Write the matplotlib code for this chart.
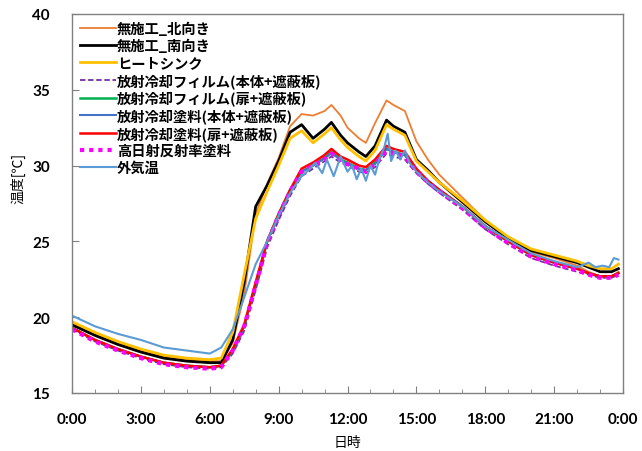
import numpy as np
import matplotlib
matplotlib.use('Agg')
from matplotlib import pyplot as plt
from matplotlib.ticker import MultipleLocator, FuncFormatter

plt.rcParams['font.family'] = ['Noto Sans CJK JP', 'DejaVu Sans']

# 時刻 [h]
t = [0, 1, 2, 3, 4, 5, 6, 6.5, 7, 7.5, 8, 8.5, 9, 9.5, 10, 10.5, 11, 11.3, 11.7, 12,
     12.5, 12.8, 13.2, 13.7, 14, 14.5, 15, 15.5, 16, 17, 18, 19, 20, 21, 22, 22.5, 23, 23.5, 23.8]

north = [19.6, 18.9, 18.3, 17.8, 17.4, 17.2, 17.1, 17.1, 18.3, 21.5, 26.8, 28.8, 30.5, 32.6, 33.4, 33.3, 33.6, 34.0, 33.3, 32.5,
         31.8, 31.5, 32.8, 34.3, 34.0, 33.6, 31.6, 30.4, 29.4, 27.9, 26.4, 25.2, 24.3, 23.9, 23.4, 23.0, 22.7, 22.7, 23.0]
south = [19.5, 18.8, 18.2, 17.7, 17.3, 17.1, 17.0, 17.0, 18.5, 22.3, 27.3, 28.7, 30.3, 32.2, 32.7, 31.8, 32.4, 32.85, 32.0, 31.5,
         30.9, 30.6, 31.3, 33.0, 32.6, 32.2, 30.4, 29.7, 28.9, 27.6, 26.3, 25.2, 24.4, 24.0, 23.6, 23.3, 23.0, 23.0, 23.2]
heatsink = [19.7, 19.0, 18.4, 17.9, 17.5, 17.3, 17.2, 17.3, 19.0, 22.8, 26.5, 28.3, 30.0, 31.8, 32.3, 31.5, 32.1, 32.5, 31.7, 31.2,
            30.6, 30.3, 31.0, 32.7, 32.4, 32.0, 30.3, 29.6, 28.9, 27.7, 26.4, 25.3, 24.5, 24.1, 23.7, 23.4, 23.2, 23.2, 23.5]
film_body = [19.2, 18.4, 17.8, 17.3, 16.9, 16.7, 16.6, 16.7, 17.6, 19.1, 21.8, 24.6, 26.4, 28.0, 29.3, 29.8, 30.3, 30.6, 30.2, 30.0,
             29.6, 29.5, 29.9, 30.8, 30.6, 30.4, 29.5, 28.8, 28.2, 27.1, 25.8, 24.8, 23.9, 23.4, 23.0, 22.8, 22.6, 22.6, 22.8]
film_door = [19.3, 18.5, 17.9, 17.4, 17.0, 16.8, 16.7, 16.8, 17.8, 19.4, 22.2, 25.0, 26.8, 28.4, 29.6, 30.0, 30.5, 30.9, 30.4, 30.2,
             29.8, 29.7, 30.2, 31.1, 30.9, 30.7, 29.7, 29.0, 28.4, 27.3, 26.0, 25.0, 24.1, 23.6, 23.2, 22.9, 22.7, 22.7, 22.9]
paint_body = [19.3, 18.5, 17.9, 17.4, 17.0, 16.8, 16.7, 16.8, 17.8, 19.4, 22.2, 25.0, 26.7, 28.3, 29.6, 30.0, 30.5, 30.8, 30.4, 30.1,
              29.8, 29.7, 30.1, 31.1, 30.9, 30.7, 29.7, 29.0, 28.4, 27.3, 26.0, 25.0, 24.1, 23.6, 23.2, 22.9, 22.7, 22.7, 22.9]
paint_door = [19.3, 18.5, 17.9, 17.4, 17.0, 16.8, 16.7, 16.8, 17.9, 19.5, 22.3, 25.0, 26.8, 28.4, 29.8, 30.2, 30.7, 31.1, 30.6, 30.4,
              30.0, 29.9, 30.4, 31.3, 31.1, 30.9, 29.8, 29.0, 28.4, 27.3, 26.0, 25.0, 24.1, 23.6, 23.2, 22.9, 22.7, 22.7, 22.9]
high_refl = [19.2, 18.4, 17.8, 17.3, 16.9, 16.7, 16.6, 16.7, 17.8, 19.4, 22.1, 24.9, 26.7, 28.3, 29.6, 30.0, 30.4, 30.8, 30.4, 30.1,
             29.8, 29.6, 30.1, 31.0, 30.8, 30.6, 29.6, 28.9, 28.3, 27.2, 25.9, 24.9, 24.0, 23.5, 23.1, 22.8, 22.6, 22.6, 22.8]

# 外気温（細かい変動あり）
t_out = [0, 1, 2, 3, 4, 5, 6, 6.5, 7, 7.5, 8, 8.5, 9, 9.5, 10, 10.3, 10.6, 10.9, 11.1, 11.4, 11.7, 12.0, 12.2, 12.4, 12.6,
         12.8, 13.0, 13.2, 13.4, 13.6, 13.75, 13.9, 14.1, 14.3, 14.5, 14.7, 15, 15.5, 16, 17, 18, 19, 20, 21, 22, 22.5,
         22.8, 23.1, 23.4, 23.6, 23.8]
outdoor = [20.1, 19.4, 18.9, 18.5, 18.0, 17.8, 17.6, 18.0, 19.2, 21.3, 23.5, 25.0, 26.7, 28.2, 29.3, 29.7, 30.2, 29.5, 30.4, 29.3,
           30.6, 29.6, 30.0, 29.1, 29.8, 29.0, 30.0, 29.4, 30.5, 31.2, 32.1, 30.3, 31.0, 30.4, 31.0, 30.2, 29.6, 28.9, 28.3, 27.3,
           26.0, 25.1, 24.2, 23.7, 23.3, 23.6, 23.3, 23.4, 23.3, 23.9, 23.8]

fig = plt.figure(figsize=(6.42, 4.52), dpi=100)
ax = fig.add_axes([72/642, 1-394/452, (623-72)/642, (394-15)/452])

ax.plot(t, north, color='#ED7D31', lw=1.3, label='無施工_北向き')
ax.plot(t, south, color='black', lw=2.0, label='無施工_南向き')
ax.plot(t, heatsink, color='#FFC000', lw=2.0, label='ヒートシンク')
ax.plot(t, film_body, color='#7030A0', lw=1.3, ls=(0, (3, 1.5)), label='放射冷却フィルム(本体+遮蔽板)')
ax.plot(t, film_door, color='#00B050', lw=1.8, label='放射冷却フィルム(扉+遮蔽板)')
ax.plot(t, paint_body, color='#4472C4', lw=1.5, label='放射冷却塗料(本体+遮蔽板)')
ax.plot(t, paint_door, color='#FF0000', lw=1.8, label='放射冷却塗料(扉+遮蔽板)')
ax.plot(t, high_refl, color='#FF00FF', lw=3.0, ls=(0, (1, 1.2)), label='高日射反射率塗料')
ax.plot(t_out, outdoor, color='#5B9BD5', lw=1.5, label='外気温')

ax.set_xlim(0, 24)
ax.set_ylim(15, 40)
ax.xaxis.set_major_locator(MultipleLocator(3))
ax.xaxis.set_minor_locator(MultipleLocator(1))
ax.yaxis.set_major_locator(MultipleLocator(5))
ax.xaxis.set_major_formatter(FuncFormatter(lambda v, p: '%d:00' % (int(v) % 24)))
ax.tick_params(which='both', direction='in', color='#808080')
ax.tick_params(which='major', length=5)
ax.tick_params(which='minor', length=3)
ax.tick_params(axis='x', pad=14)
ax.tick_params(axis='y', pad=16, left=True)
for lab in ax.get_xticklabels() + ax.get_yticklabels():
    lab.set_fontfamily(['Lato', 'DejaVu Sans'])
    lab.set_fontweight('bold')
    lab.set_fontsize(11)
for s in ax.spines.values():
    s.set_color('#808080')
    s.set_linewidth(1.0)

ax.set_xlabel('日時', fontsize=10)
ax.xaxis.set_label_coords(0.5, -0.11)
ax.set_ylabel('温度[℃]', fontsize=10)
ax.yaxis.set_label_coords(-0.085, 0.57)

leg = ax.legend(loc='upper left', frameon=False, handlelength=2.5, handletextpad=0.1,
                labelspacing=0.2, borderaxespad=0.15, prop={'weight': 'bold', 'size': 10.3})

fig.savefig('out.png', dpi=100)
